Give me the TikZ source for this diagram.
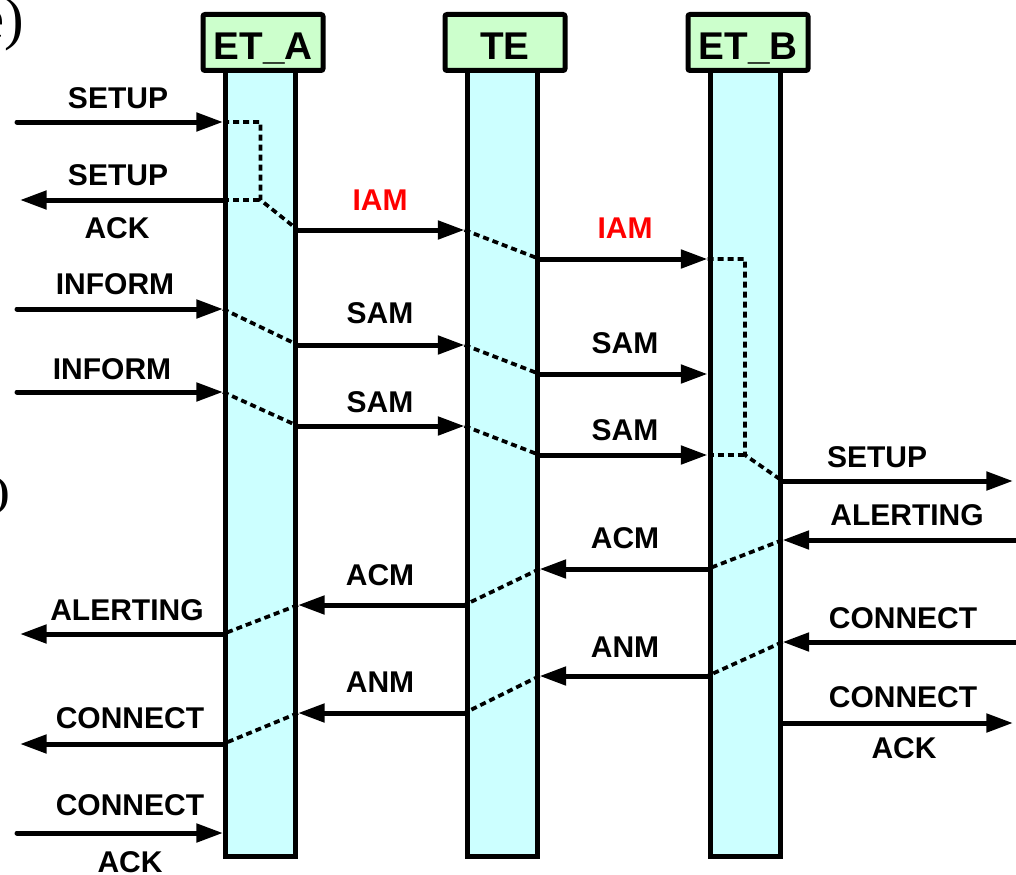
\documentclass[tikz,border=0pt]{standalone}
\usepackage{fontspec}
\setmainfont{Liberation Sans}
\newfontfamily\parfont{Liberation Serif}
\usetikzlibrary{arrows.meta}
\definecolor{hdrfill}{HTML}{CCFFCC}
\definecolor{barfill}{HTML}{CCFFFF}
\begin{document}
\begin{tikzpicture}[x=0.75pt,y=-0.75pt,
  lifebar/.style={draw,line width=3.75pt,fill=barfill,minimum width=52.5pt,minimum height=597.4pt,inner sep=0pt},
  hdr/.style={draw,line width=3.75pt,fill=hdrfill,rounded corners=1.5pt,minimum width=90pt,minimum height=42pt,inner sep=0pt,
    font=\fontsize{29}{29}\selectfont\bfseries,text height=26pt,text depth=0pt},
  msg/.style={line width=3.75pt,line cap=round,-{Triangle[length=20pt,width=13.5pt]}},
  dsh/.style={line width=2.8pt,dash pattern=on 4.5pt off 3pt},
  lbl/.style={inner sep=0pt,font=\fontsize{22.5}{22.5}\selectfont\bfseries},
  red lbl/.style={lbl,text=red}]
\useasboundingbox (0,0) rectangle (1016,874);
% partial side labels
\node[anchor=east,inner sep=0pt,font=\parfont\fontsize{44}{44}\selectfont] (pe) at (24,24) {e)};
\node[anchor=east,inner sep=0pt,font=\parfont\fontsize{30}{30}\selectfont\bfseries] (pf) at (10,496) {)};
% lifelines
\node[lifebar] (bA) at (260.5,458.25) {};
\node[lifebar] (bT) at (502,458.25) {};
\node[lifebar] (bB) at (745,458.25) {};
\node[hdr] (hA) at (263,42.5) {ET\_A};
\node[hdr] (hT) at (505,42.5) {TE};
\node[hdr] (hB) at (748,42.5) {ET\_B};
% free ends
\coordinate (L1) at (17,122);
\coordinate (L2) at (20,200);
\coordinate (L3) at (17,309);
\coordinate (L4) at (17,392);
\coordinate (L5) at (20,634);
\coordinate (L6) at (20,744);
\coordinate (L7) at (17,833);
\coordinate (R1) at (1013,481);
\coordinate (R2) at (1020,540);
\coordinate (R3) at (1020,642);
\coordinate (R4) at (1013,723);
% dashed internal paths
\draw[dsh] (bA.west |- 0,122) -| (bA.center |- 0,200) -- (bA.east |- 0,230);
\draw[dsh] (bA.west |- 0,200) -- (bA.center |- 0,200);
\draw[dsh] (bA.west |- 0,309) -- (bA.east |- 0,345);
\draw[dsh] (bA.west |- 0,392) -- (bA.east |- 0,426);
\draw[dsh] (bA.east |- 0,605) -- (bA.west |- 0,634);
\draw[dsh] (bA.east |- 0,713) -- (bA.west |- 0,744);
\draw[dsh] (bT.west |- 0,230) -- (bT.east |- 0,259);
\draw[dsh] (bT.west |- 0,345) -- (bT.east |- 0,374);
\draw[dsh] (bT.west |- 0,426) -- (bT.east |- 0,455);
\draw[dsh] (bT.east |- 0,569) -- (bT.west |- 0,605);
\draw[dsh] (bT.east |- 0,676) -- (bT.west |- 0,713);
\draw[dsh] (bB.west |- 0,259) -| (bB.center |- 0,455) -- (bB.east |- 0,481);
\draw[dsh] (bB.west |- 0,455) -- (bB.center |- 0,455);
\draw[dsh] (bB.east |- 0,540) -- (bB.west |- 0,569);
\draw[dsh] (bB.east |- 0,642) -- (bB.west |- 0,676);
% left messages
\draw[msg] (L1) -- (bA.west |- L1);
\draw[msg] (bA.west |- L2) -- (L2);
\draw[msg] (L3) -- (bA.west |- L3);
\draw[msg] (L4) -- (bA.west |- L4);
\draw[msg] (bA.west |- L5) -- (L5);
\draw[msg] (bA.west |- L6) -- (L6);
\draw[msg] (L7) -- (bA.west |- L7);
% A <-> T
\draw[msg] (bA.east |- 0,230) -- (bT.west |- 0,230);
\draw[msg] (bA.east |- 0,345) -- (bT.west |- 0,345);
\draw[msg] (bA.east |- 0,426) -- (bT.west |- 0,426);
\draw[msg] (bT.west |- 0,605) -- (bA.east |- 0,605);
\draw[msg] (bT.west |- 0,713) -- (bA.east |- 0,713);
% T <-> B
\draw[msg] (bT.east |- 0,259) -- (bB.west |- 0,259);
\draw[msg] (bT.east |- 0,374) -- (bB.west |- 0,374);
\draw[msg] (bT.east |- 0,455) -- (bB.west |- 0,455);
\draw[msg] (bB.west |- 0,569) -- (bT.east |- 0,569);
\draw[msg] (bB.west |- 0,676) -- (bT.east |- 0,676);
% right messages
\draw[msg] (bB.east |- R1) -- (R1);
\draw[msg] (R2) -- (bB.east |- R2);
\draw[msg] (R3) -- (bB.east |- R3);
\draw[msg] (bB.east |- R4) -- (R4);
% labels left
\node[lbl] (t1) at (118,98) {SETUP};
\node[lbl] (t2) at (118,175) {SETUP};
\node[lbl] (t3) at (117,228) {ACK};
\node[lbl] (t4) at (115,284) {INFORM};
\node[lbl] (t5) at (112,369) {INFORM};
\node[lbl] (t6) at (127,610) {ALERTING};
\node[lbl] (t7) at (130,718) {CONNECT};
\node[lbl] (t8) at (130,805) {CONNECT};
\node[lbl] (t9) at (130,862) {ACK};
% labels A-T
\node[red lbl] (m1) at (380,200) {IAM};
\node[lbl] (m2) at (380,313) {SAM};
\node[lbl] (m3) at (380,402) {SAM};
\node[lbl] (m4) at (380,575) {ACM};
\node[lbl] (m5) at (380,682) {ANM};
% labels T-B
\node[red lbl] (n1) at (625,228) {IAM};
\node[lbl] (n2) at (625,343) {SAM};
\node[lbl] (n3) at (625,430) {SAM};
\node[lbl] (n4) at (625,538) {ACM};
\node[lbl] (n5) at (625,647) {ANM};
% labels right
\node[lbl] (r1) at (877,457) {SETUP};
\node[lbl] (r2) at (907,515) {ALERTING};
\node[lbl] (r3) at (903,618) {CONNECT};
\node[lbl] (r4) at (903,697) {CONNECT};
\node[lbl] (r5) at (904,748) {ACK};
\end{tikzpicture}
\end{document}
